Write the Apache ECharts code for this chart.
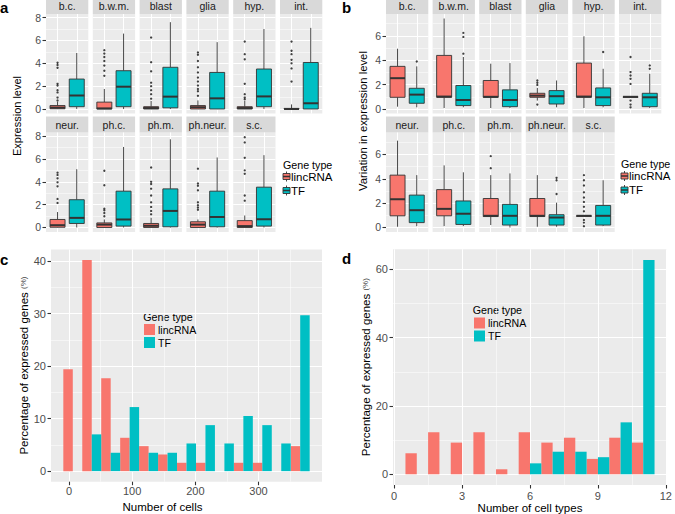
<!DOCTYPE html>
<html>
<head>
<meta charset="utf-8">
<title>lincRNA vs TF expression across cell types</title>
<script src="https://cdn.jsdelivr.net/npm/echarts@6.0.0/dist/echarts.min.js"></script>
<style>
  html, body { margin: 0; padding: 0; background: #fff; }
  #chart { width: 675px; height: 514px; }
</style>
</head>
<body>
<div id="chart"></div>
<script>
// ---- values ----
const cellTypes = ['b.c.', 'b.w.m.', 'blast', 'glia', 'hyp.', 'int.', 'neur.', 'ph.c.', 'ph.m.', 'ph.neur.', 's.c.'];

// panel a: expression level, [min, q1, median, q3, max] per cell type
const exprLinc = [
  [0, 0.02, 0.12, 0.3, 0.65], [0, 0, 0.05, 0.6, 1.75], [0, 0, 0.08, 0.2, 0.7], [0, 0, 0.15, 0.3, 0.75],
  [0, 0, 0.08, 0.2, 0.7], [0, 0, 0, 0.05, 0.4], [0, 0.02, 0.2, 0.7, 1.35], [0, 0, 0.25, 0.4, 0.7],
  [0, 0, 0.15, 0.35, 0.85], [0, 0, 0.25, 0.5, 0.7], [0, 0, 0.12, 0.6, 1.05]
];
const exprTF = [
  [0, 0.2, 1.18, 2.62, 4.9], [0, 0.2, 1.95, 3.35, 6.6], [0, 0.1, 1.08, 3.65, 7.6], [0, 0, 0.93, 3.2, 5.85],
  [0, 0.2, 1.1, 3.5, 7.0], [0, 0, 0.5, 4.07, 7.1], [0, 0.35, 0.84, 2.43, 5.1], [0, 0.12, 0.7, 3.18, 7.05],
  [0, 0.06, 1.45, 3.38, 7.72], [0, 0.06, 0.92, 3.18, 6.13], [0, 0.12, 0.72, 3.53, 6.33]
];
const exprLincOut = [
  [0.75, 1.0, 1.45, 1.65, 2.05, 2.2, 3.6, 3.85, 4.05],
  [2.9, 3.35, 3.8, 4.2, 4.55, 4.85, 5.15],
  [0.9, 1.3, 1.65, 2.0, 2.3, 3.3, 4.1, 6.25],
  [1.15, 1.55, 1.75, 2.05, 2.4, 2.75, 3.2, 3.65, 4.2, 4.75, 4.95],
  [0.85, 1.0, 1.3, 2.2, 4.35, 4.8, 5.9],
  [2.4, 3.55, 4.0, 4.3, 4.8, 5.1, 5.9],
  [2.15, 2.5, 3.6, 3.95, 4.3, 4.6, 4.8],
  [0.98, 1.27, 1.5, 1.65, 3.7, 4.97],
  [1.15, 1.45, 1.8, 2.2, 2.8, 3.4, 3.8, 4.0, 5.25],
  [1.55, 1.75, 1.95, 2.2, 3.25, 3.65, 3.85, 5.15],
  [2.35, 2.8, 4.7, 5.0, 6.1, 7.45, 7.9]
];
const exprTFOut = [[], [], [], [], [], [], [], [], [], [], []];

// panel b: variation in expression level
const varLinc = [
  [0.19, 0.96, 2.53, 3.5, 4.95], [0.08, 0.96, 1.02, 4.4, 7.43], [0.08, 0.96, 1.0, 2.34, 3.72], [0.69, 0.96, 1.1, 1.29, 1.73],
  [0.08, 0.96, 1.02, 3.77, 5.97], [1.0, 1.0, 1.0, 1.0, 1.0], [0.06, 0.96, 2.32, 4.3, 7.13], [0.11, 0.96, 1.53, 3.11, 5.1],
  [0.2, 0.9, 0.96, 2.38, 4.3], [0.06, 0.9, 0.96, 2.38, 4.3], [0.96, 0.96, 0.96, 0.96, 0.96]
];
const varTF = [
  [0.14, 0.47, 1.18, 1.7, 3.5], [0.14, 0.28, 0.74, 1.93, 4.27], [0.08, 0.19, 0.74, 1.57, 3.77], [0.14, 0.41, 1.05, 1.51, 2.34],
  [0.14, 0.28, 0.96, 1.73, 3.3], [0.08, 0.19, 0.96, 1.29, 2.89], [0.11, 0.4, 1.42, 2.66, 4.3], [0.11, 0.25, 1.13, 2.18, 4.53],
  [0, 0.2, 0.96, 1.9, 4.44], [0.06, 0.2, 0.82, 1.05, 2.04], [0.11, 0.2, 0.96, 1.81, 3.88]
];
const varLincOut = [
  [], [], [], [0.36, 1.98, 2.15, 2.34], [],
  [0.14, 0.36, 0.69, 2.06, 2.48, 2.75, 3.03, 4.27],
  [], [], [4.87, 5.86], [],
  [0.11, 0.4, 0.62, 1.33, 1.7, 2.1, 2.46, 2.89, 3.45, 3.88, 4.3]
];
const varTFOut = [[3.9], [4.54, 5.92, 6.25], [], [], [4.68], [3.3, 3.58], [], [], [], [2.75, 3.88, 4.08], []];

// panel c: percentage of expressed genes by number of cells (bin centres)
const cellBins = [6, 36, 66, 96, 126, 156, 186, 216, 246, 276, 306, 336, 366];
const cellsLinc = [19.4, 40.2, 17.7, 6.35, 4.76, 3.17, 1.59, 1.59, 0, 1.59, 1.59, 0, 4.76];
const cellsTF = [0, 7.0, 3.5, 12.2, 3.5, 3.5, 5.27, 8.76, 5.27, 10.5, 8.76, 5.27, 29.7];

// panel d: percentage of expressed genes by number of cell types
const typeBins = [1, 2, 3, 4, 5, 6, 7, 8, 9, 10, 11];
const typesLinc = [6.15, 12.3, 9.27, 12.3, 1.46, 12.3, 9.27, 10.7, 4.5, 10.7, 9.27];
const typesTF = [0, 0, 0, 0, 0, 3.2, 6.6, 6.6, 5.0, 15.2, 62.7];

// ---- styling / layout ----
const FONT = '"Liberation Sans", Arial, sans-serif';
const RED = '#F8766D', CYAN = '#00BFC4';
const STRIP_H = 16;
const BOX_W = 0.78;
const TITLE_SIZE = 11.5;

const grids = [], xAxes = [], yAxes = [], series = [], shapes = [];

function txt(x, y, s, size, o) {
  o = o || {};
  return {
    type: 'text', x: x, y: y, rotation: o.rot || 0, silent: true,
    style: {
      text: s, fill: o.color || '#000', fontSize: size, fontFamily: FONT, fontWeight: o.bold ? 'bold' : 'normal',
      align: o.align || 'left', textAlign: o.align || 'left', verticalAlign: 'middle', textVerticalAlign: 'middle'
    }
  };
}

function axis(gi, range, ticks, lw, lab) {
  const on = !!lab;
  const a = {
    type: 'value', gridIndex: gi, min: range[0], max: range[1],
    axisLine: { show: false, onZero: false },
    axisTick: { show: on, customValues: ticks, length: 3.5, lineStyle: { color: '#333', width: 1.1 } },
    axisLabel: { show: on, customValues: ticks, color: '#4D4D4D', fontSize: on ? lab.size : 10, margin: on ? lab.margin : 4, fontFamily: FONT },
    splitLine: { show: ticks.length > 0, lineStyle: { color: '#fff', width: lw } }
  };
  if (lab && lab.name) {
    a.name = lab.name;
    a.nameLocation = 'middle';
    a.nameGap = lab.gap;
    a.nameTextStyle = { color: '#000', fontSize: TITLE_SIZE, fontFamily: FONT, rich: { p: { fontSize: 8, color: '#444', fontFamily: FONT } } };
  }
  return a;
}

function addPanel(p) {
  const gi = grids.length;
  grids.push({ left: p.x, top: p.y, width: p.w, height: p.h, show: true, backgroundColor: '#EBEBEB', borderWidth: 0, outerBoundsMode: 'none' });
  const xi = xAxes.length, yi = yAxes.length;
  xAxes.push(Object.assign(axis(gi, p.xr, p.xMajor, 1, p.xLab), { position: 'bottom' }));
  xAxes.push(Object.assign(axis(gi, p.xr, p.xMinor, 0.5, null), { position: 'bottom' }));
  yAxes.push(Object.assign(axis(gi, p.yr, p.yMajor, 1, p.yLab), { position: 'left' }));
  yAxes.push(Object.assign(axis(gi, p.yr, p.yMinor, 0.5, null), { position: 'left' }));
  return { xi: xi, yi: yi };
}

// ggplot style box: no whisker caps, thick median
function boxSeries(ax, pos, box, color) {
  return {
    type: 'custom', name: 'box', xAxisIndex: ax.xi, yAxisIndex: ax.yi, silent: true,
    data: [[pos].concat(box)],
    encode: { x: 0, y: [1, 2, 3, 4, 5] },
    renderItem: function (params, api) {
      const x = api.value(0);
      const lo = api.coord([x, api.value(1)]), q1 = api.coord([x, api.value(2)]),
            md = api.coord([x, api.value(3)]), q3 = api.coord([x, api.value(4)]),
            hi = api.coord([x, api.value(5)]);
      const half = api.size([BOX_W, 0])[0] / 2;
      return {
        type: 'group', children: [
          { type: 'line', shape: { x1: lo[0], y1: lo[1], x2: q1[0], y2: q1[1] }, style: { stroke: '#333', lineWidth: 0.9 } },
          { type: 'line', shape: { x1: q3[0], y1: q3[1], x2: hi[0], y2: hi[1] }, style: { stroke: '#333', lineWidth: 0.9 } },
          { type: 'rect', shape: { x: q3[0] - half, y: q3[1], width: half * 2, height: Math.max(q1[1] - q3[1], 0.5) }, style: { fill: color, stroke: '#333', lineWidth: 0.9 } },
          { type: 'line', shape: { x1: md[0] - half, y1: md[1], x2: md[0] + half, y2: md[1] }, style: { stroke: '#333', lineWidth: 2 } }
        ]
      };
    }
  };
}

function outlierSeries(ax, outL, outT) {
  const pts = outL.map(function (v) { return [1, v]; }).concat(outT.map(function (v) { return [2, v]; }));
  return { type: 'scatter', xAxisIndex: ax.xi, yAxisIndex: ax.yi, data: pts, symbolSize: 2.3, itemStyle: { color: '#111' }, silent: true };
}

// dodged histogram bars: [from, to] offset from the bin centre
function histSeries(ax, bins, vals, from, to, color, name) {
  return {
    type: 'custom', name: name, xAxisIndex: ax.xi, yAxisIndex: ax.yi, itemStyle: { color: color }, silent: true,
    data: bins.map(function (b, i) { return [b, vals[i]]; }),
    encode: { x: 0, y: 1 },
    renderItem: function (params, api) {
      const b = api.value(0), v = api.value(1);
      if (!v) return null;
      const p0 = api.coord([b + from, v]), p1 = api.coord([b + to, 0]);
      return { type: 'rect', shape: { x: p0[0], y: p0[1], width: p1[0] - p0[0], height: p1[1] - p0[1] }, style: { fill: color } };
    }
  };
}

function facetPanels(L, boxL, boxT, outL, outT) {
  cellTypes.forEach(function (name, i) {
    const row = i < 6 ? 0 : 1, col = row ? i - 6 : i;
    const x = L.left + col * L.step, y = L.tops[row];
    const ax = addPanel({
      x: x, y: y, w: L.w, h: L.h,
      xr: [0.4, 2.6], xMajor: [1, 2], xMinor: [],
      yr: L.yr, yMajor: L.yMajor, yMinor: L.yMinor,
      xLab: null, yLab: col === 0 ? { size: 10.5, margin: 5 } : null
    });
    series.push(boxSeries(ax, 1, boxL[i], RED), boxSeries(ax, 2, boxT[i], CYAN), outlierSeries(ax, outL[i], outT[i]));
    shapes.push({ type: 'rect', silent: true, shape: { x: x, y: y - STRIP_H, width: L.w, height: STRIP_H }, style: { fill: '#D9D9D9' } });
    shapes.push(txt(x + L.w / 2, y - STRIP_H / 2, name, 10.5, { align: 'center', color: '#1A1A1A' }));
  });
}

function boxKey(cx, cy, color) {
  return [
    { type: 'line', silent: true, shape: { x1: cx, y1: cy - 5, x2: cx, y2: cy + 5 }, style: { stroke: '#333', lineWidth: 0.9 } },
    { type: 'rect', silent: true, shape: { x: cx - 3.5, y: cy - 3, width: 7, height: 6 }, style: { fill: color, stroke: '#333', lineWidth: 0.9 } },
    { type: 'line', silent: true, shape: { x1: cx - 3.5, y1: cy, x2: cx + 3.5, y2: cy }, style: { stroke: '#333', lineWidth: 1.5 } }
  ];
}

function boxLegend(x, y) {
  shapes.push(txt(x, y, 'Gene type', 10.7));
  boxKey(x + 3.5, y + 12, RED).forEach(function (s) { shapes.push(s); });
  boxKey(x + 3.5, y + 26, CYAN).forEach(function (s) { shapes.push(s); });
  shapes.push(txt(x + 8, y + 12, 'lincRNA', 11.5));
  shapes.push(txt(x + 8, y + 26, 'TF', 11.5));
}

// ---- panel a ----
facetPanels({ left: 46, step: 46.8, w: 42.3, tops: [14, 132.5], h: 99.5, yr: [-0.396, 8.316], yMajor: [0, 2, 4, 6, 8], yMinor: [1, 3, 5, 7] },
  exprLinc, exprTF, exprLincOut, exprTFOut);
shapes.push(txt(17, 116, 'Expression level', 11, { rot: Math.PI / 2, align: 'center' }));
boxLegend(283, 164.5);
shapes.push(txt(0, 7, 'a', 15, { bold: true }));

// ---- panel b ----
facetPanels({ left: 386, step: 46.6, w: 42.3, tops: [14, 132.5], h: 99.5, yr: [-0.37, 7.8], yMajor: [0, 2, 4, 6], yMinor: [1, 3, 5, 7] },
  varLinc, varTF, varLincOut, varTFOut);
shapes.push(txt(363, 121, 'Variation in expression level', 11.3, { rot: Math.PI / 2, align: 'center' }));
boxLegend(621, 164);
shapes.push(txt(342, 7, 'b', 15, { bold: true }));

// ---- panel c ----
const axC = addPanel({
  x: 51, y: 249.5, w: 271, h: 232.2,
  xr: [-28.5, 400.5], xMajor: [0, 100, 200, 300], xMinor: [50, 150, 250, 350],
  yr: [-2.01, 42.2], yMajor: [0, 10, 20, 30, 40], yMinor: [5, 15, 25, 35],
  xLab: { size: 11, margin: 4 },
  yLab: { size: 11, margin: 5, name: 'Percentage of expressed genes {p|(%)}', gap: 17 }
});
series.push(histSeries(axC, cellBins, cellsLinc, -15, 0, RED, 'lincRNA'), histSeries(axC, cellBins, cellsTF, 0, 15, CYAN, 'TF'));
// the x title of this panel sits left of the plot centre in the original
shapes.push(txt(162.5, 507.3, 'Number of cells', TITLE_SIZE, { align: 'center' }));
shapes.push(txt(143.3, 316.7, 'Gene type', 10.7));
shapes.push(txt(0, 259, 'c', 15, { bold: true }));

// ---- panel d ----
const axD = addPanel({
  x: 393, y: 249.3, w: 274, h: 235.7,
  xr: [-0.05, 12.05], xMajor: [0, 3, 6, 9, 12], xMinor: [1.5, 4.5, 7.5, 10.5],
  yr: [-3.14, 65.85], yMajor: [0, 20, 40, 60], yMinor: [10, 30, 50],
  xLab: { size: 11, margin: 5, name: 'Number of cell types', gap: 16 },
  yLab: { size: 11, margin: 5, name: 'Percentage of expressed genes {p|(%)}', gap: 17 }
});
series.push(histSeries(axD, typeBins, typesLinc, -0.5, 0, RED, 'lincRNA'), histSeries(axD, typeBins, typesTF, 0, 0.5, CYAN, 'TF'));
shapes.push(txt(472.7, 310, 'Gene type', 10.7));
shapes.push(txt(342, 258, 'd', 15, { bold: true }));

const legendBase = {
  orient: 'vertical', padding: 0, itemWidth: 11, itemHeight: 11, itemGap: 2, icon: 'rect',
  data: ['lincRNA', 'TF'], selectedMode: false,
  itemStyle: { borderWidth: 0 },
  textStyle: { fontSize: 10.6, color: '#000', fontFamily: FONT, padding: [0, 0, 0, -2] }
};

const chart = echarts.init(document.getElementById('chart'), null, { renderer: 'svg' });
chart.setOption({
  animation: false,
  textStyle: { fontFamily: FONT },
  grid: grids,
  xAxis: xAxes,
  yAxis: yAxes,
  series: series,
  legend: [
    Object.assign({ left: 144, top: 324 }, legendBase),
    Object.assign({ left: 474, top: 317.5 }, legendBase)
  ],
  graphic: { elements: shapes }
});
</script>
</body>
</html>
